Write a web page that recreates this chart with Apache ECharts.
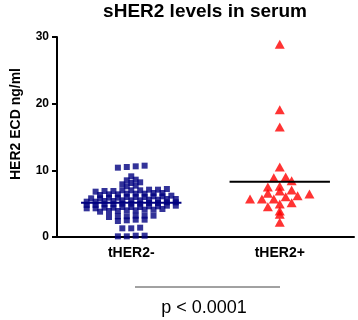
<!DOCTYPE html>
<html>

<head>
	<meta charset="UTF-8" />
	<title>sHER2 levels in serum</title>
	<style type="text/css">
		* {
			margin: 0;
			padding: 0;
		}

		#main {
			width: 358px;
			height: 320px;
			background-color: #fff;
		}
	</style>
</head>

<body>
	<div id="main"></div>
</body>
<script src="https://cdn.jsdelivr.net/npm/echarts@6/dist/echarts.min.js"></script>
<script type="text/javascript">
	// groups on the x axis
	var categories = ['tHER2-', 'tHER2+']
	// HER2 ECD ng/ml
	var negValues = [
		10.7, 10.5, 10.4, 10.6,
		9.1,
		8.6, 8.5,
		8.2, 8.1, 7.9,
		7.6, 7.7,
		7.1, 7.0, 6.9, 7.1, 7.0, 6.9, 7.2, 7.0, 6.8,
		6.5, 6.4, 6.6, 6.4, 6.5, 6.3, 6.6, 6.5,
		6.0, 5.9, 6.1, 5.8, 6.0, 5.9, 6.2, 5.8, 6.1, 6.0,
		5.5, 5.6, 5.4, 5.7, 5.3, 5.5, 5.6, 5.4, 5.5, 5.3, 5.7,
		5.0, 5.1, 4.9, 5.2, 4.8, 5.0, 5.1, 4.9, 5.2, 4.8, 5.0,
		4.5, 4.6, 4.4, 4.7, 4.3, 4.5, 4.6, 4.4, 4.5, 4.3, 4.7,
		4.0, 4.1, 3.9, 4.2, 3.8, 4.0, 4.1, 3.9,
		3.2, 3.1, 3.2, 3.0, 3.1, 3.2,
		2.6, 2.5, 2.4, 2.6,
		1.4, 1.3, 1.3,
		0.2, 0.1, 0.2, 0.1
	]
	var posValues = [
		28.9, 19.1, 16.5, 10.5, 9.0, 8.9, 8.45, 7.5, 7.6, 6.9, 7.05, 6.2,
		6.45, 6.55, 6.05, 5.7, 5.7, 5.7, 4.95, 5.15, 4.55, 3.9, 3.4, 2.2
	]
	// group means (horizontal bars)
	var meanValues = [5.15, 8.3]
	var yTicks = [0, 10, 20, 30]
	var pText = 'p < 0.0001'

	var FONT = '"Liberation Sans", Arial, sans-serif'

	// spread points that share a row sideways (dot plot style)
	function swarm(values, center, binSize, step) {
		var bins = {}
		values.forEach(function (v) {
			var k = Math.round(v / binSize)
			;(bins[k] = bins[k] || []).push(v)
		})
		var out = []
		Object.keys(bins).forEach(function (k) {
			var row = bins[k].slice().sort(function (a, b) { return a - b })
			var n = row.length
			row.forEach(function (v, i) {
				out.push([center + (i - (n - 1) / 2) * step, v])
			})
		})
		return out
	}

	function meanLine(i) {
		return [[i + 0.5 - 0.338, meanValues[i]], [i + 0.5 + 0.338, meanValues[i]]]
	}

	var myChart = echarts.init(document.getElementById('main'))

	var option = {
		backgroundColor: '#fff',
		animation: false,
		title: {
			text: 'sHER2 levels in serum',
			left: 205,
			top: 0,
			textAlign: 'center',
			padding: [2, 0, 0, 0],
			textStyle: {
				fontFamily: FONT,
				fontSize: 19,
				fontWeight: 'bold',
				color: '#000'
			}
		},
		grid: {
			left: 57,
			right: 4,
			top: 37,
			bottom: 83,
			containLabel: false
		},
		xAxis: [{
			type: 'category',
			data: categories,
			boundaryGap: true,
			axisLine: { lineStyle: { color: '#000', width: 2 } },
			axisTick: { alignWithLabel: true, length: 5, lineStyle: { color: '#000', width: 2 } },
			axisLabel: {
				margin: 9,
				fontFamily: FONT,
				fontSize: 14,
				fontWeight: 'bold',
				color: '#000'
			},
			splitLine: { show: false }
		}, {
			type: 'value',
			min: 0,
			max: categories.length,
			show: false
		}],
		yAxis: {
			type: 'value',
			min: yTicks[0],
			max: yTicks[yTicks.length - 1],
			interval: 10,
			name: 'HER2 ECD ng/ml',
			nameLocation: 'middle',
			nameGap: 34,
			nameTextStyle: {
				fontFamily: FONT,
				fontSize: 14,
				fontWeight: 'bold',
				color: '#000',
				padding: [0, 0, 0, 26]
			},
			axisLine: { show: true, lineStyle: { color: '#000', width: 2 } },
			axisTick: { show: true, length: 5, lineStyle: { color: '#000', width: 2 } },
			axisLabel: {
				margin: 8,
				fontFamily: FONT,
				fontSize: 12,
				fontWeight: 'bold',
				color: '#000'
			},
			splitLine: { show: false }
		},
		series: [{
			name: categories[0],
			type: 'scatter',
			xAxisIndex: 1,
			symbol: 'rect',
			symbolSize: 6,
			itemStyle: { color: '#00007f' },
			data: swarm(negValues, 0.5, 0.5, 0.06)
		}, {
			name: categories[1],
			type: 'scatter',
			xAxisIndex: 1,
			symbol: 'triangle',
			symbolSize: [10, 9],
			itemStyle: { color: '#ff0000' },
			data: swarm(posValues, 1.5, 1.0, 0.08)
		}, {
			type: 'line',
			xAxisIndex: 1,
			symbol: 'none',
			z: 3,
			lineStyle: { color: '#00007f', width: 2 },
			data: meanLine(0)
		}, {
			type: 'line',
			xAxisIndex: 1,
			symbol: 'none',
			z: 3,
			lineStyle: { color: '#000', width: 2 },
			data: meanLine(1)
		}],
		graphic: [{
			type: 'line',
			shape: { x1: 135, y1: 287, x2: 280, y2: 287 },
			style: { stroke: '#444', lineWidth: 1 }
		}, {
			type: 'text',
			x: 204,
			y: 308,
			style: {
				text: pText,
				fontFamily: FONT,
				fontSize: 18,
				fill: '#000',
				align: 'center',
				verticalAlign: 'middle'
			}
		}]
	}
	myChart.setOption(option)
</script>

</html>
